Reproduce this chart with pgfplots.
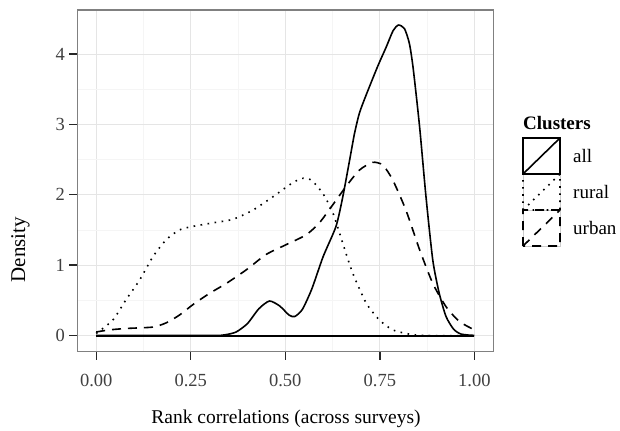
\documentclass[border=0pt]{standalone}
\usepackage{fontspec}
\setmainfont{Liberation Serif}
\usepackage{pgfplots}
\pgfplotsset{compat=1.18}
\definecolor{gridmaj}{gray}{0.90}
\definecolor{gridmin}{gray}{0.96}
\definecolor{frame}{gray}{0.5}
\definecolor{keygrey}{gray}{0.8}

\begin{document}
\begin{tikzpicture}[x=1bp,y=1bp]
\useasboundingbox (0,0) rectangle (620,430);
\begin{axis}[
  at={(77.3bp,78.3bp)}, anchor=south west,
  scale only axis, width=416bp, height=341.7bp,
  xmin=-0.05, xmax=1.05, ymin=-0.230, ymax=4.624,
  xtick={0,0.25,0.5,0.75,1}, xticklabels={0.00,0.25,0.50,0.75,1.00},
  ytick={0,1,2,3,4}, yticklabels={0,1,2,3,4},
  minor xtick={0.125,0.375,0.625,0.875}, minor ytick={0.5,1.5,2.5,3.5},
  grid=both,
  major grid style={gridmaj, line width=0.8bp},
  minor grid style={gridmin, line width=0.8bp},
  axis line style={frame, line width=1.3bp},
  tick align=outside, tick pos=left,
  major tick length=8bp, minor tick length=0pt,
  major tick style={black!85, line width=1.4bp},
  ticklabel style={font=\fontsize{18.5bp}{20bp}\selectfont, text=black!75},
  xticklabel style={yshift=-11bp},
  yticklabel style={xshift=-1bp},
  every axis plot/.append style={no marks, black, line width=1.6bp},
]
% all
\addplot[smooth, tension=0.4] coordinates {
(0,0) (0.30,0) (0.34,0.01) (0.37,0.05) (0.40,0.17) (0.43,0.38) (0.458,0.49)
(0.485,0.42) (0.51,0.29) (0.525,0.27) (0.545,0.37) (0.57,0.66) (0.60,1.12)
(0.634,1.55) (0.652,1.97) (0.670,2.49) (0.683,2.87) (0.696,3.16) (0.714,3.42)
(0.744,3.82) (0.767,4.10) (0.785,4.33) (0.799,4.41) (0.815,4.36) (0.828,4.15)
(0.838,3.80) (0.855,2.97) (0.872,1.97) (0.89,1.07) (0.907,0.60) (0.925,0.27)
(0.945,0.09) (0.965,0.02) (1,0)};
% rural
\addplot[smooth, tension=0.4, dash pattern=on 1.6bp off 5.5bp] coordinates {
(0,0.03) (0.044,0.22) (0.079,0.51) (0.115,0.79) (0.150,1.12) (0.185,1.36)
(0.220,1.50) (0.256,1.55) (0.308,1.60) (0.361,1.65) (0.414,1.78) (0.467,1.97)
(0.511,2.14) (0.542,2.23) (0.568,2.21) (0.599,2.02) (0.626,1.74) (0.652,1.31)
(0.678,0.89) (0.714,0.46) (0.749,0.22) (0.784,0.08) (0.828,0.02) (0.872,0) (1,0)};
% urban
\addplot[smooth, tension=0.4, dash pattern=on 9bp off 7bp] coordinates {
(0,0.05) (0.035,0.08) (0.079,0.10) (0.150,0.12) (0.185,0.18) (0.220,0.29)
(0.256,0.44) (0.300,0.60) (0.344,0.74) (0.396,0.93) (0.449,1.15) (0.502,1.29)
(0.555,1.43) (0.590,1.60) (0.626,1.86) (0.661,2.12) (0.696,2.35) (0.731,2.46)
(0.758,2.42) (0.784,2.21) (0.819,1.78) (0.855,1.22) (0.890,0.74) (0.925,0.41)
(0.960,0.20) (1,0.08)};
% baseline of the density polygons
\addplot[line width=2bp] coordinates {(0,0) (1,0)};
\draw[frame, line width=1.3bp] (rel axis cs:0,0) rectangle (rel axis cs:1,1);
\end{axis}

% legend
\draw[keygrey, line width=1bp] (523,184) rectangle (560,292)
  (523,220) -- (560,220) (523,256) -- (560,256);
\draw[black, line width=1.6bp] (523,256) rectangle (560,292) (523,256) -- (560,292);
\draw[black, line width=1.6bp, dash pattern=on 1.6bp off 5.5bp] (523,220) rectangle (560,256) (523,220) -- (560,256);
\draw[black, line width=1.6bp, dash pattern=on 9bp off 7bp] (523,184) rectangle (560,220) (523,184) -- (560,220);
\node[anchor=west, inner sep=0, font=\bfseries\fontsize{19bp}{22bp}\selectfont] at (523,307) {Clusters};
\node[anchor=west, inner sep=0, font=\fontsize{19bp}{22bp}\selectfont] at (573,274) {all};
\node[anchor=west, inner sep=0, font=\fontsize{19bp}{22bp}\selectfont] at (573,238) {rural};
\node[anchor=west, inner sep=0, font=\fontsize{19bp}{22bp}\selectfont] at (573,202) {urban};

% axis titles
\node[anchor=base, inner sep=0, font=\fontsize{19.5bp}{22bp}\selectfont] at (286,6.7) {Rank correlations (across surveys)};
\node[anchor=base, inner sep=0, rotate=90, font=\fontsize{21bp}{24bp}\selectfont] at (25,180.5) {Density};
\end{tikzpicture}
\end{document}
